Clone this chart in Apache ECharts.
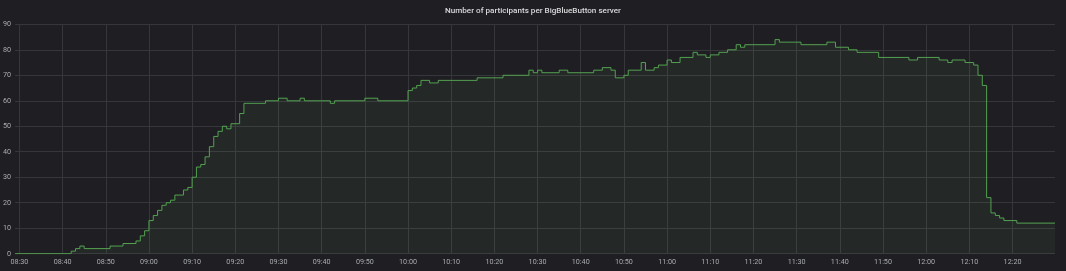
<!DOCTYPE html>
<html>
<head>
<meta charset="utf-8">
<script src="https://cdn.jsdelivr.net/npm/echarts@6/dist/echarts.min.js"></script>
<style>
html,body{margin:0;padding:0;background:#1f1f23;}
#chart{width:1066px;height:271px;}
</style>
</head>
<body>
<div id="chart"></div>
<script>
const DAY = '2020-04-20';
const titleText = 'Number of participants per BigBlueButton server';
const startTime = '08:29:00';
const endTime = '12:29:50';
// change points: time at which a new value begins
const times = [
  '08:29','08:42','08:43','08:44','08:45','08:51','08:54','08:57','08:58','08:59',
  '09:00','09:01','09:02','09:03','09:04','09:05','09:06','09:08','09:09','09:10',
  '09:11','09:12','09:13','09:14','09:15','09:16','09:17','09:18','09:19','09:21',
  '09:22','09:27','09:30','09:32','09:35','09:36','09:42','09:43','09:50','09:53',
  '10:00','10:01','10:02','10:03','10:05','10:07','10:16','10:22','10:28','10:29',
  '10:30','10:31','10:35','10:37','10:43','10:45','10:47','10:48','10:50','10:51',
  '10:54','10:55','10:57','10:58','11:00','11:01','11:03','11:06','11:07','11:09',
  '11:10','11:12','11:14','11:16','11:17','11:18','11:25','11:26','11:31','11:37',
  '11:39','11:42','11:44','11:49','11:56','11:58','12:03','12:05','12:06','12:09',
  '12:11','12:12','12:13','12:14','12:15','12:16','12:17','12:18','12:21','12:29:50'
];
const participants = [
  0,1,2,3,2,3,4,5,7,9,
  13,15,17,19,20,21,23,25,26,30,
  34,35,38,42,46,48,50,49,51,55,
  59,60,61,60,61,60,59,60,61,60,
  64,65,66,68,67,68,69,70,72,71,
  72,71,72,71,72,73,72,69,70,72,
  75,72,73,74,76,75,77,79,78,77,
  78,79,80,82,81,82,84,83,82,83,
  81,80,79,77,76,77,76,75,76,75,
  74,70,66,22,16,15,14,13,12,12
];
const yMin = 0, yMax = 90, yInterval = 10;

function ts(t){
  const p = t.split(':');
  const s = p.length > 2 ? p[2] : '00';
  return new Date(DAY + 'T' + p[0] + ':' + p[1] + ':' + s).getTime();
}
const seriesData = times.map((t, i) => [ts(t), participants[i]]);

const chart = echarts.init(document.getElementById('chart'), null, {renderer: 'canvas'});
const labelColor = '#a8abb0';
const gridColor = '#36373b';
chart.setOption({
  backgroundColor: '#1f1f23',
  animation: false,
  title: {
    text: titleText,
    left: 'center',
    top: 2,
    textStyle: {color: '#d8d9da', fontSize: 8.1, fontWeight: 500, fontFamily: 'Roboto'}
  },
  grid: {left: 15, right: 11, top: 24.3, bottom: 17.3},
  xAxis: {
    type: 'time',
    min: ts(startTime),
    max: ts(endTime),
    minInterval: 660000,
    maxInterval: 660000,
    axisLine: {show: false},
    axisTick: {show: false},
    splitLine: {show: true, showMinLine: false, showMaxLine: false, lineStyle: {color: gridColor, width: 1}},
    axisLabel: {
      color: labelColor, fontSize: 7.2, fontFamily: 'Roboto', margin: 5,
      showMinLabel: false, showMaxLabel: false,
      formatter: function (v) { return echarts.time.format(v, '{HH}:{mm}', false); }
    }
  },
  yAxis: {
    type: 'value',
    min: yMin, max: yMax, interval: yInterval,
    axisLine: {show: false},
    axisTick: {show: false},
    splitLine: {show: true, lineStyle: {color: gridColor, width: 1}},
    axisLabel: {color: labelColor, fontSize: 7.2, fontFamily: 'Roboto', margin: 4}
  },
  series: [{
    type: 'line',
    step: 'end',
    data: seriesData,
    showSymbol: false,
    symbol: 'none',
    lineStyle: {color: '#53a050', width: 1},
    areaStyle: {color: 'rgba(115,191,105,0.1)'}
  }]
});
</script>
</body>
</html>
